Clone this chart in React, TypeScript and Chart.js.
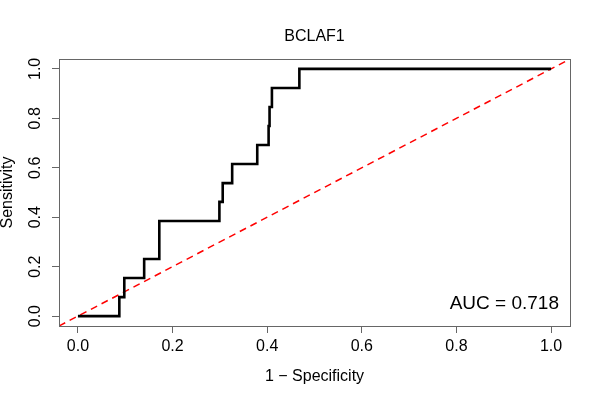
import { useEffect, useRef } from "react";
import { Chart, registerables } from "chart.js";
import type { Plugin } from "chart.js";

Chart.register(...registerables);

// ROC curve (13 positive cases, so steps of 1/13)
const fpr = [0, 0.0875, 0.098, 0.14, 0.172, 0.299, 0.306, 0.326, 0.379, 0.403, 0.405, 0.41, 0.468, 1.0];
const tpr = [0, 0.077, 0.154, 0.231, 0.385, 0.462, 0.538, 0.615, 0.692, 0.769, 0.846, 0.923, 1.0, 1.0];

const axisTicks = [0, 0.2, 0.4, 0.6, 0.8, 1.0];
const axisMin = -0.04;
const axisMax = 1.04;

const titleText = "BCLAF1";
const xTitle = "1 \u2212 Specificity";
const yTitle = "Sensitivity";
const aucLabel = "AUC = 0.718";

const FONT = "'Liberation Sans', Arial, Helvetica, sans-serif";
const AXIS_GREY = "#666666";

// R-style box round the plot region, plus the AUC text
const boxPlugin: Plugin = {
  id: "rbox",
  afterDatasetsDraw(chart) {
    const { ctx, chartArea } = chart;
    ctx.save();
    ctx.strokeStyle = AXIS_GREY;
    ctx.lineWidth = 1;
    ctx.strokeRect(
      Math.round(chartArea.left) + 0.5,
      Math.round(chartArea.top) + 0.5,
      Math.round(chartArea.right - chartArea.left),
      Math.round(chartArea.bottom - chartArea.top)
    );
    ctx.fillStyle = "#000";
    ctx.font = `19px ${FONT}`;
    ctx.textAlign = "right";
    ctx.textBaseline = "middle";
    ctx.fillText(aucLabel, chartArea.right - 11, chartArea.bottom - 22);
    ctx.restore();
  },
};

export default function App() {
  const canvasRef = useRef<HTMLCanvasElement>(null);
  const chartRef = useRef<Chart | null>(null);

  useEffect(() => {
    if (!canvasRef.current) return;

    chartRef.current?.destroy();
    chartRef.current = new Chart(canvasRef.current, {
      type: "line",
      data: {
        datasets: [
          {
            label: "ROC",
            data: fpr.map((x, i) => ({ x, y: tpr[i] })),
            // horizontal run first, then the vertical jump
            stepped: "before",
            borderColor: "#000000",
            borderWidth: 2.6,
            pointRadius: 0,
            fill: false,
          },
          {
            label: "chance",
            data: [
              { x: axisMin, y: axisMin },
              { x: axisMax, y: axisMax },
            ],
            borderColor: "#ff0000",
            borderWidth: 1.5,
            borderDash: [7, 5],
            pointRadius: 0,
            fill: false,
          },
        ],
      },
      options: {
        animation: false,
        responsive: true,
        maintainAspectRatio: false,
        layout: { padding: { left: 0, right: 30, top: 0, bottom: 0 } },
        plugins: {
          legend: { display: false },
          tooltip: { enabled: false },
          title: {
            display: true,
            text: titleText,
            fullSize: false,
            color: "#000",
            font: { family: FONT, size: 16, weight: "normal", lineHeight: 1.2 },
            padding: { top: 27.4, bottom: 12.4 },
          },
        },
        scales: {
          x: {
            type: "linear",
            min: axisMin,
            max: axisMax,
            afterBuildTicks: (scale) => {
              scale.ticks = axisTicks.map((value) => ({ value }));
            },
            afterFit: (scale) => {
              scale.height = 74;
            },
            ticks: {
              color: "#000",
              font: { family: FONT, size: 16, lineHeight: 1.2 },
              padding: 4.4,
              maxRotation: 0,
              callback: (v) => Number(v).toFixed(1),
            },
            grid: {
              drawOnChartArea: false,
              drawTicks: true,
              tickLength: 7,
              color: AXIS_GREY,
            },
            border: { display: true, color: AXIS_GREY },
            title: {
              display: true,
              text: xTitle,
              color: "#000",
              font: { family: FONT, size: 16, lineHeight: 1 },
              padding: { top: 0, bottom: 15 },
            },
          },
          y: {
            type: "linear",
            min: axisMin,
            max: axisMax,
            afterBuildTicks: (scale) => {
              scale.ticks = axisTicks.map((value) => ({ value }));
            },
            afterFit: (scale) => {
              scale.width = 59;
            },
            ticks: {
              color: "#000",
              font: { family: FONT, size: 16, lineHeight: 1.2 },
              padding: 4.9,
              minRotation: 90,
              maxRotation: 90,
              crossAlign: "center",
              callback: (v) => Number(v).toFixed(1),
            },
            grid: {
              drawOnChartArea: false,
              drawTicks: true,
              tickLength: 7,
              color: AXIS_GREY,
            },
            border: { display: true, color: AXIS_GREY },
            title: {
              display: true,
              text: yTitle,
              color: "#000",
              font: { family: FONT, size: 16, lineHeight: 1 },
              padding: { top: 0, bottom: 0 },
            },
          },
        },
      },
      plugins: [boxPlugin],
    });

    return () => {
      chartRef.current?.destroy();
    };
  }, []);

  return (
    <div style={{ position: "absolute", left: 0, top: 0, width: 600, height: 400, background: "#fff" }}>
      <canvas ref={canvasRef} />
    </div>
  );
}
